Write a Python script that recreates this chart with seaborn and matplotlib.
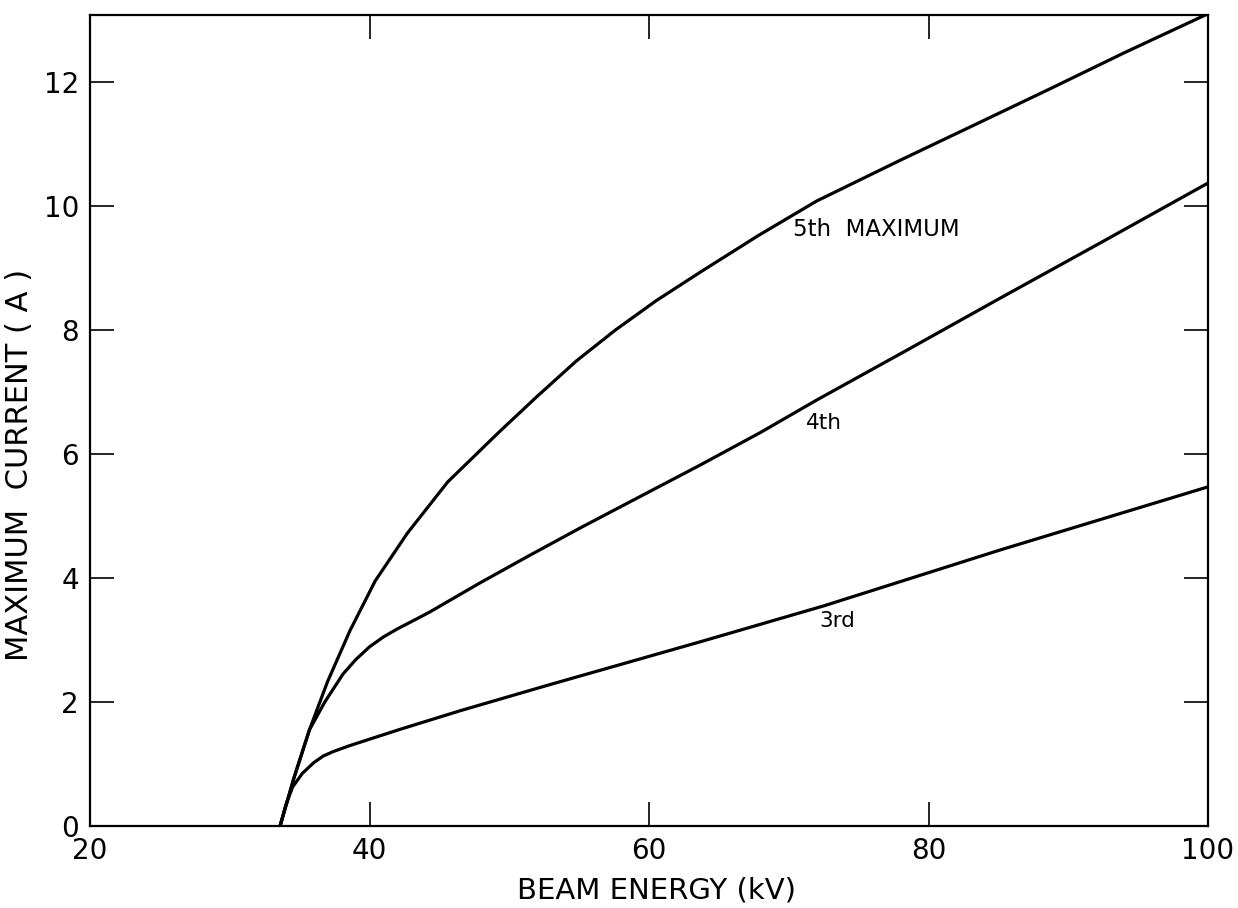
import pandas as pd
import numpy as np
import seaborn as sns
import matplotlib
matplotlib.use("Agg")
import matplotlib.pyplot as plt

# ---------------------------------------------------------
# 1. Values
# ---------------------------------------------------------
kv_5th = [33.6, 34.6, 35.7, 37.0, 38.6, 40.4, 42.7, 45.6, 49.3, 52.0, 54.8,
          57.6, 60.5, 63.65, 67.8, 72.0, 78.0, 83.5, 88.7, 94.0, 100.0]
amp_5th = [0.0, 0.78, 1.55, 2.33, 3.15, 3.95, 4.72, 5.55, 6.36, 6.93, 7.5,
           8.0, 8.47, 8.93, 9.52, 10.08, 10.74, 11.33, 11.89, 12.47, 13.1]

kv_4th = [33.6, 34.6, 35.7, 36.8, 38.1, 39.0, 40.0, 41.0, 42.0, 43.2, 44.3,
          47.9, 51.5, 55.1, 59.5, 63.65, 68.0, 72.0, 78.5, 85.1, 92.5, 100.0]
amp_4th = [0.0, 0.78, 1.55, 2.0, 2.45, 2.68, 2.89, 3.05, 3.18, 3.32, 3.45,
           3.92, 4.37, 4.81, 5.33, 5.82, 6.35, 6.87, 7.68, 8.51, 9.43, 10.37]

kv_3rd = [33.6, 34.0, 34.5, 35.2, 36.0, 36.7, 37.4, 38.5, 40.0, 42.2, 46.5,
          52.9, 63.65, 72.5, 85.1, 100.0]
amp_3rd = [0.0, 0.33, 0.63, 0.85, 1.02, 1.13, 1.2, 1.29, 1.4, 1.56, 1.86,
           2.28, 2.97, 3.55, 4.45, 5.47]

x_ticks = [20, 40, 60, 80, 100]
y_ticks = [0, 2, 4, 6, 8, 10, 12]

df = pd.concat([
    pd.DataFrame({"kv": kv_5th, "amp": amp_5th, "order": "5th"}),
    pd.DataFrame({"kv": kv_4th, "amp": amp_4th, "order": "4th"}),
    pd.DataFrame({"kv": kv_3rd, "amp": amp_3rd, "order": "3rd"}),
])

# ---------------------------------------------------------
# 2. Plot
# ---------------------------------------------------------
sns.set_style("ticks")
plt.rcParams["font.family"] = ["DejaVu Sans"]
plt.rcParams["text.color"] = "black"
plt.rcParams["axes.labelcolor"] = "black"

fig = plt.figure(figsize=(12.38, 9.08), dpi=100)
ax = fig.add_axes([0.0727, 0.0903, 0.9031, 0.8932])

sns.lineplot(data=df, x="kv", y="amp", hue="order", units="order",
             estimator=None, sort=False, palette=["black"] * 3,
             linewidth=2.3, legend=False, ax=ax)

ax.set_xlim(20, 100)
ax.set_ylim(0, 13.08)
ax.set_xticks(x_ticks)
ax.set_yticks(y_ticks)
ax.set_xticklabels([str(t) for t in x_ticks], fontsize=20)
ax.set_yticklabels([str(t) for t in y_ticks], fontsize=20)
ax.tick_params(axis="both", direction="in", length=17, width=1.2,
               top=True, right=True, pad=8, colors="black")

for s in ax.spines.values():
    s.set_linewidth(1.6)
    s.set_color("black")

ax.set_xlabel("BEAM ENERGY (kV)", fontsize=21)
ax.set_ylabel("MAXIMUM  CURRENT ( A )", fontsize=22)
ax.xaxis.set_label_coords(0.507, -0.062)
ax.yaxis.set_label_coords(-0.05, 0.445)

ax.text(70.3, 9.62, "5th  MAXIMUM", fontsize=16.5, va="center", ha="left")
ax.text(71.2, 6.5, "4th", fontsize=15.5, va="center", ha="left")
ax.text(72.2, 3.3, "3rd", fontsize=15.5, va="center", ha="left")

fig.savefig("out.png", dpi=100, facecolor="white")
